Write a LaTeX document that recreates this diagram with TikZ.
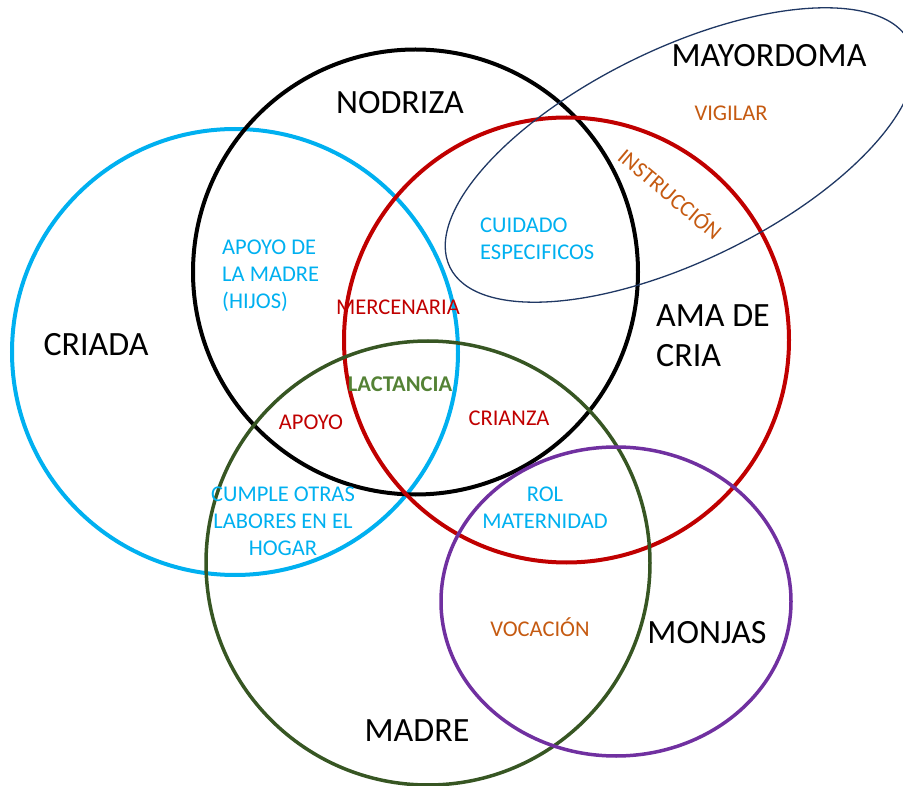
\documentclass[tikz,border=0pt]{standalone}
\usepackage{fontspec}
\setmainfont{Carlito}
\definecolor{ccyan}{HTML}{00B0F0}
\definecolor{cred}{HTML}{C00000}
\definecolor{cgreen}{HTML}{375623}
\definecolor{cpurple}{HTML}{7030A0}
\definecolor{cnavy}{HTML}{203864}
\definecolor{corange}{HTML}{C55A11}
\definecolor{clact}{HTML}{548235}
\tikzset{
  ring/.style={line width=4pt},
  bigtxt/.style={inner sep=0pt, font=\fontsize{34}{40}\selectfont, text=black},
  smalltxt/.style={inner sep=0pt, font=\fontsize{22.5}{27}\selectfont},
}
\begin{document}
\begin{tikzpicture}[x=1pt,y=-1pt]
\useasboundingbox (0,0) rectangle (903,786);
\clip (0,0) rectangle (903,786);
% circles
\draw[ring, ccyan] (235,352) circle [radius=223];
\draw[ring, black] (415.5,272) circle [radius=222.5];
\draw[ring, cred] (566.5,340) circle [radius=222.5];
\draw[line width=3.5pt, cgreen] (428,563) circle [radius=222];
\draw[line width=3.5pt, cpurple] (616,601.5) ellipse [x radius=175, y radius=154.5];
\draw[line width=1.3pt, cnavy, rotate around={26:(680,155)}] (680,155) ellipse [x radius=256, y radius=106];
% main labels
\node[bigtxt, anchor=base] (mayordoma) at (769,67) {MAYORDOMA};
\node[bigtxt, anchor=base] (nodriza) at (400,114) {NODRIZA};
\node[bigtxt, anchor=west, align=left] (ama) at (656,336) {AMA DE\\CRIA};
\node[bigtxt, anchor=base] (criada) at (96,356) {CRIADA};
\node[bigtxt, anchor=base] (monjas) at (707,643) {MONJAS};
\node[bigtxt, anchor=base] (madre) at (417,741) {MADRE};
% small labels
\node[smalltxt, text=corange, anchor=base] (vigilar) at (731,121) {VIGILAR};
\node[smalltxt, text=corange, rotate=-40] (instr) at (671,193) {INSTRUCCIÓN};
\node[smalltxt, text=ccyan, anchor=west, align=left] (cuidado) at (480,239) {CUIDADO\\ESPECIFICOS};
\node[smalltxt, text=ccyan, anchor=west, align=left] (apoyomadre) at (222,276) {APOYO DE\\LA MADRE\\(HIJOS)};
\node[smalltxt, text=cred, anchor=base] (mercenaria) at (398,315) {MERCENARIA};
\node[smalltxt, text=clact, font=\fontsize{22.5}{27}\selectfont\bfseries, anchor=base] (lactancia) at (400,392) {LACTANCIA};
\node[smalltxt, text=cred, anchor=base] (apoyo) at (311,430) {APOYO};
\node[smalltxt, text=cred, anchor=base] (crianza) at (509,425) {CRIANZA};
\node[smalltxt, text=ccyan, align=center] (cumple) at (283,521.5) {CUMPLE OTRAS\\LABORES EN EL\\HOGAR};
\node[smalltxt, text=ccyan, align=center] (rol) at (545,507.5) {ROL\\MATERNIDAD};
\node[smalltxt, text=corange, anchor=base] (vocacion) at (540,636) {VOCACIÓN};
\end{tikzpicture}
\end{document}
